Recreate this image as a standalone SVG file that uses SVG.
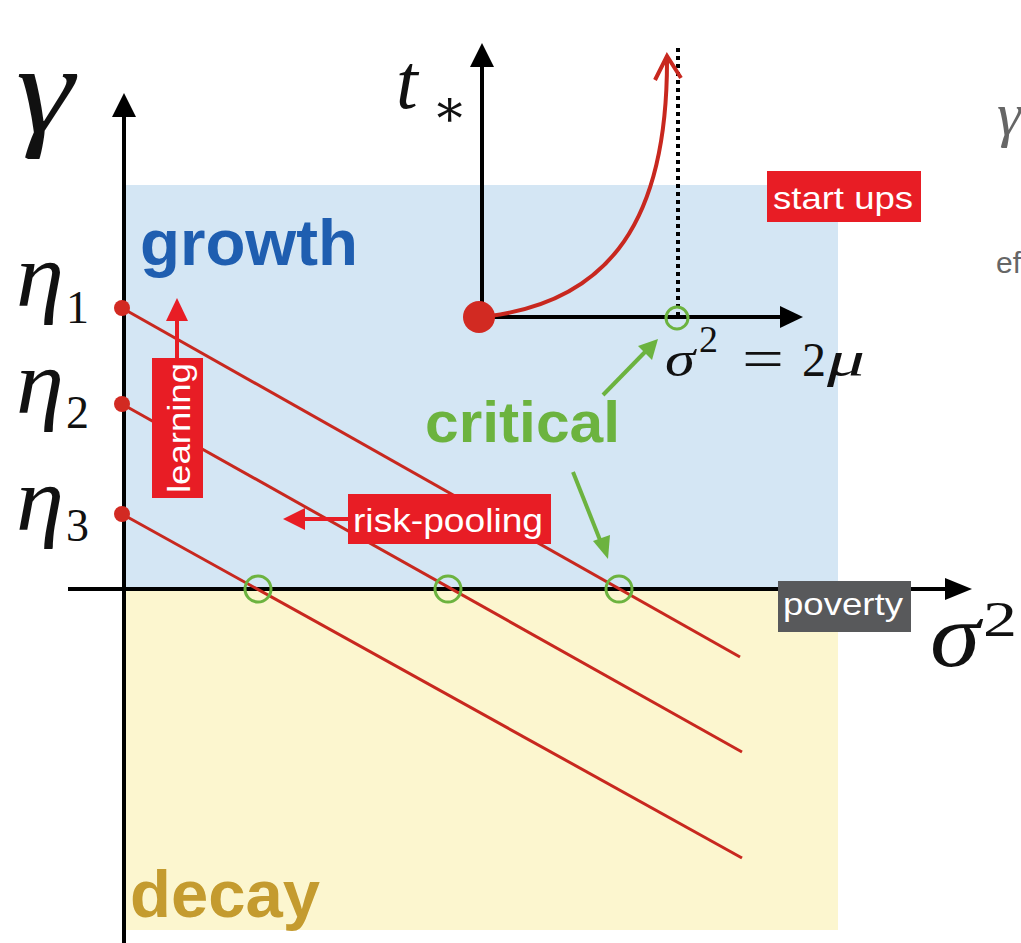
<svg xmlns="http://www.w3.org/2000/svg" width="1021" height="943" viewBox="0 0 1021 943">
<style>
.math{font-family:"Liberation Serif","DejaVu Serif",serif;font-style:italic;fill:#111}
.mathr{font-family:"Liberation Serif","DejaVu Serif",serif;fill:#111}
.region{font-family:"Liberation Sans",Arial,sans-serif;font-weight:bold}
.lbl{font-family:"Liberation Sans",Arial,sans-serif;fill:#fff}
.axis{stroke:#000;stroke-width:4;fill:none}
.eta{stroke:#c8281f;stroke-width:3;fill:none}
.crit{stroke:#6cb33f;stroke-width:3;fill:none}
.garrow{stroke:#6cb33f;stroke-width:4;fill:none}
.rarrow{stroke:#e81d25;stroke-width:4;fill:none}
</style>
<rect x="0" y="0" width="1021" height="943" fill="#fff"/>
<g id="regions">
<rect id="growth-area" x="125" y="185" width="713" height="404" fill="#d4e6f4"/>
<rect id="decay-area" x="125" y="589" width="713" height="341" fill="#fcf6cf"/>
</g>
<g id="connectors">
<line class="axis" x1="124" y1="943" x2="124" y2="115"/>
<polygon points="124,93 112,117 136,117" fill="#000"/>
<line class="axis" x1="68" y1="589" x2="946" y2="589"/>
<polygon points="972,589 945,578 945,600" fill="#000"/>
<line class="eta" x1="122" y1="308" x2="740" y2="657"/>
<line class="eta" x1="122" y1="404" x2="742" y2="752"/>
<line class="eta" x1="122" y1="514" x2="742" y2="858"/>
<line class="axis" x1="482" y1="318" x2="482" y2="64"/>
<polygon points="482,43 470,67 494,67" fill="#000"/>
<line class="axis" x1="480" y1="317" x2="782" y2="317"/>
<polygon points="803,317 780,306 780,328" fill="#000"/>
<line x1="678" y1="48" x2="678" y2="318" stroke="#000" stroke-width="4" stroke-dasharray="4 4"/>
<path d="M490 316 C610 300 668 220 667 57" stroke="#c8281f" stroke-width="4" fill="none"/>
<polyline points="655,80 667,56 681,78" stroke="#c8281f" stroke-width="4" fill="none"/>
<line class="garrow" x1="603" y1="395" x2="645" y2="352"/>
<polygon points="658,339 652,360 638,346" fill="#6cb33f"/>
<line class="garrow" x1="573" y1="472" x2="600" y2="540"/>
<polygon points="608,559 593,541 610,535" fill="#6cb33f"/>
<line class="rarrow" x1="177" y1="360" x2="177" y2="318"/>
<polygon points="177,298 166,321 188,321" fill="#e81d25"/>
<line class="rarrow" x1="350" y1="519" x2="303" y2="519"/>
<polygon points="283,519 305,508 305,530" fill="#e81d25"/>
</g>
<g id="points">
<circle cx="122" cy="308" r="8" fill="#d22a22"/>
<circle cx="122" cy="404" r="8" fill="#d22a22"/>
<circle cx="122" cy="514" r="8" fill="#d22a22"/>
<circle cx="479" cy="317" r="16" fill="#d22a22"/>
<circle class="crit" cx="258" cy="589" r="13"/>
<circle class="crit" cx="448" cy="589" r="13"/>
<circle class="crit" cx="619" cy="589" r="13"/>
<circle class="crit" cx="677" cy="318" r="11"/>
</g>
<g id="axis-labels">
<text class="math" x="16" y="132" font-size="126" textLength="58" lengthAdjust="spacingAndGlyphs">γ</text>
<text class="math" x="16" y="306" font-size="92" textLength="48" lengthAdjust="spacingAndGlyphs">η</text><text class="mathr" x="66" y="323" font-size="46">1</text>
<text class="math" x="16" y="413" font-size="92" textLength="48" lengthAdjust="spacingAndGlyphs">η</text><text class="mathr" x="66" y="428" font-size="46">2</text>
<text class="math" x="16" y="530" font-size="92" textLength="48" lengthAdjust="spacingAndGlyphs">η</text><text class="mathr" x="66" y="541" font-size="46">3</text>
<text class="math" x="396" y="108" font-size="78">t</text><text class="mathr" x="432" y="126" font-size="52">∗</text>
<text class="math" x="665" y="376" font-size="50" textLength="30" lengthAdjust="spacingAndGlyphs">σ</text><text class="mathr" x="699" y="352" font-size="38">2</text>
<text class="mathr" x="742" y="378" font-size="56" textLength="42" lengthAdjust="spacingAndGlyphs">=</text>
<text class="mathr" x="802" y="376" font-size="48">2</text><text class="math" x="827" y="376" font-size="50" textLength="38" lengthAdjust="spacingAndGlyphs">μ</text>
<text class="math" x="930" y="666" font-size="90" textLength="50" lengthAdjust="spacingAndGlyphs">σ</text><text class="mathr" x="983" y="636" font-size="50" textLength="34" lengthAdjust="spacingAndGlyphs">2</text>
<text class="math" x="997" y="135" font-size="62" style="fill:#666">γ</text>
<text x="996" y="273" font-size="30" font-family="Liberation Sans,Arial,sans-serif" fill="#666">ef</text>
</g>
<g id="growth"><text class="region" x="140" y="265" font-size="64" fill="#1f5eb0" textLength="218" lengthAdjust="spacingAndGlyphs">growth</text></g>
<g id="decay"><text class="region" x="130" y="917" font-size="66" fill="#c49b2f" textLength="190" lengthAdjust="spacingAndGlyphs">decay</text></g>
<g id="critical"><text class="region" x="425" y="442" font-size="58" fill="#6cb33f" textLength="195" lengthAdjust="spacingAndGlyphs">critical</text></g>
<g id="start-ups"><rect x="767" y="171" width="154" height="51" fill="#e81d25"/><text class="lbl" x="773" y="209" font-size="32" textLength="140" lengthAdjust="spacingAndGlyphs">start ups</text></g>
<g id="learning"><rect x="152" y="358" width="51" height="140" fill="#e81d25"/><text class="lbl" transform="translate(190,493) rotate(-90)" x="0" y="0" font-size="32" textLength="130" lengthAdjust="spacingAndGlyphs">learning</text></g>
<g id="risk-pooling"><rect x="348" y="494" width="203" height="50" fill="#e81d25"/><text class="lbl" x="353" y="532" font-size="34" textLength="190" lengthAdjust="spacingAndGlyphs">risk-pooling</text></g>
<g id="poverty"><rect x="778" y="581" width="133" height="51" fill="#58595b"/><text class="lbl" x="783" y="615" font-size="32" textLength="120" lengthAdjust="spacingAndGlyphs">poverty</text></g>
</svg>
